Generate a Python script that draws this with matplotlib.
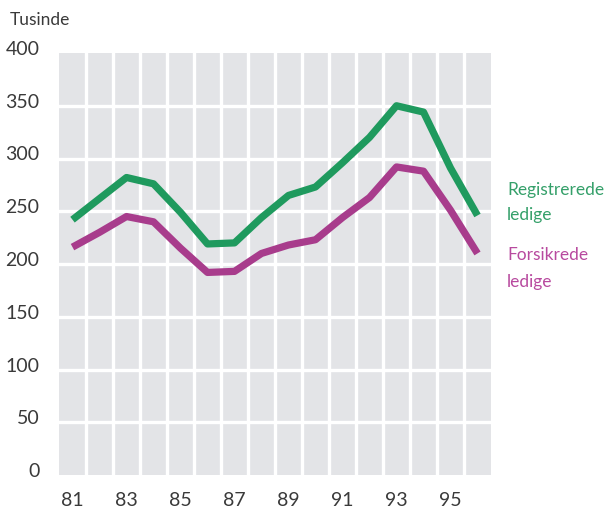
#!/usr/bin/env python3
# -*- coding: utf-8 -*-
"""Registrerede og forsikrede ledige 1981-96 (tusinde)."""

import matplotlib
matplotlib.use("Agg")
import matplotlib.pyplot as plt
from matplotlib.transforms import ScaledTranslation

YEARS = list(range(81, 97))
REGISTRERET = [242, 262, 282, 276, 249, 219, 220, 244, 265, 273, 296, 320, 350, 344, 291, 246]
FORSIKRET = [216, 230, 245, 240, 215, 192, 193, 210, 218, 223, 244, 263, 292, 288, 251, 210]
X_LABELS = ["81", "83", "85", "87", "89", "91", "93", "95"]
Y_TICKS = [0, 50, 100, 150, 200, 250, 300, 350, 400]

GREEN = "#1f9a5e"
MAGENTA = "#a83c8c"
GREEN_TXT = "#35a06a"
MAGENTA_TXT = "#b84a9f"
BG = "#e3e4e7"
TXT = "#3a3a3a"

plt.rcParams["font.family"] = ["Lato", "DejaVu Sans"]

fig = plt.figure(figsize=(6.09, 5.09), dpi=100)
ax = fig.add_axes([59 / 609, 1 - 475 / 509, (491 - 59) / 609, (475 - 53) / 509])
ax.set_facecolor(BG)

ax.plot(YEARS, REGISTRERET, color=GREEN, lw=5.2, solid_joinstyle="round",
        solid_capstyle="butt", zorder=3)
ax.plot(YEARS, FORSIKRET, color=MAGENTA, lw=5.2, solid_joinstyle="round",
        solid_capstyle="butt", zorder=3)

ax.set_xlim(YEARS[0] - 0.5, YEARS[-1] + 0.5)
ax.set_ylim(0, 400)
ax.set_xticks([int(s) for s in X_LABELS])
ax.set_xticklabels(X_LABELS)
ax.set_yticks(Y_TICKS)
ax.set_yticklabels([str(v) for v in Y_TICKS])

ax.grid(False)
for x in [y - 0.5 for y in YEARS[1:]]:
    ax.axvline(x, color="white", lw=2.4, zorder=1)
for v in Y_TICKS[1:-1]:
    ax.axhline(v, color="white", lw=2.4, zorder=1)

for s in ax.spines.values():
    s.set_visible(False)
ax.tick_params(axis="both", which="both", length=0, labelsize=14, colors=TXT)
ax.tick_params(axis="y", pad=14)
ax.tick_params(axis="x", pad=12)

off = ScaledTranslation(0, 5 / 100, fig.dpi_scale_trans)
for lab in ax.get_yticklabels():
    lab.set_transform(lab.get_transform() + off)

fig.text(10 / 609, 1 - 20 / 509, "Tusinde", fontsize=12.5, color=TXT,
         ha="left", va="center")
fig.text(507 / 609, 1 - 190 / 509, "Registrerede", fontsize=12.5, color=GREEN_TXT,
         ha="left", va="center")
fig.text(507 / 609, 1 - 215 / 509, "ledige", fontsize=12.5, color=GREEN_TXT,
         ha="left", va="center")
fig.text(507 / 609, 1 - 255 / 509, "Forsikrede", fontsize=12.5, color=MAGENTA_TXT,
         ha="left", va="center")
fig.text(507 / 609, 1 - 282 / 509, "ledige", fontsize=12.5, color=MAGENTA_TXT,
         ha="left", va="center")

fig.savefig("out.png", dpi=100)
